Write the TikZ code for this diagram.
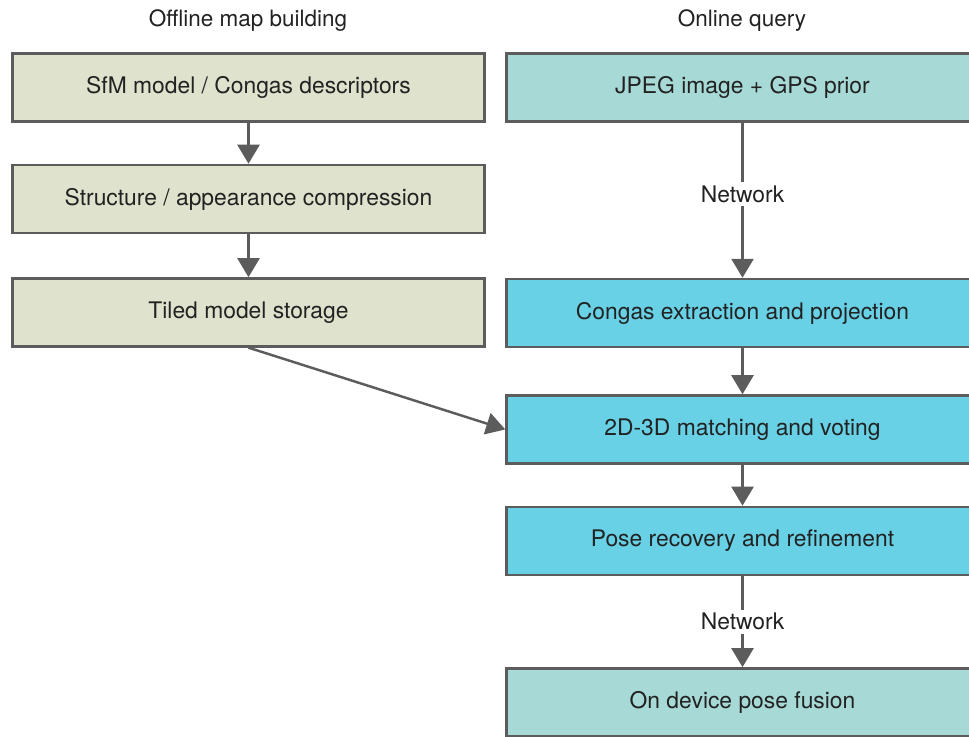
\documentclass[tikz,border=0pt]{standalone}
\usepackage{fontspec}
\setmainfont{TeX Gyre Heros}
\usetikzlibrary{positioning,arrows.meta}
\definecolor{offfill}{HTML}{DFE2CC}
\definecolor{netfill}{HTML}{A7DAD6}
\definecolor{devfill}{HTML}{68D1E6}
\definecolor{edge}{HTML}{5C5C5C}
\definecolor{ink}{HTML}{222222}
\tikzset{
	stage/.style={shape=rectangle,draw=edge,line width=1.4pt,minimum width=9.44cm,minimum height=1.36cm,text=ink,font=\fontsize{13}{15}\selectfont},
	offbox/.style={stage,fill=offfill},
	netbox/.style={stage,fill=netfill},
	devbox/.style={stage,fill=devfill},
	flow/.style={draw=edge,line width=1.4pt,-{Triangle[width=0.44cm,length=0.38cm]}},
	netlabel/.style={fill=white,text=ink,font=\fontsize{13}{15}\selectfont,inner sep=2pt}
}
\begin{document}
\begin{tikzpicture}
		\useasboundingbox (0,0) rectangle (19.38,-14.72);
		\clip (0,0) rectangle (19.38,-14.72);

		\node[text=ink,font=\fontsize{12.8}{15}\selectfont] (offtitle) at (4.96,-0.42) {Offline map building};
		\node[text=ink,font=\fontsize{12.8}{15}\selectfont] (ontitle) at (14.84,-0.42) {Online query};

		\node[offbox] (sfm) at (4.97,-1.75) {SfM model / Congas descriptors};
		\node[offbox] (compress) [below=0.82cm of sfm] {Structure / appearance compression};
		\node[offbox] (tiles) [below=0.86cm of compress] {Tiled model storage};

		\node[netbox] (jpeg) at (14.85,-1.75) {JPEG image + GPS prior};
		\node[devbox] (congas) at (14.85,-6.26) {Congas extraction and projection};
		\node[devbox] (match) [below=0.92cm of congas] {2D-3D matching and voting};
		\node[devbox] (pose) [below=0.82cm of match] {Pose recovery and refinement};
		\node[netbox] (fusion) [below=1.82cm of pose] {On device pose fusion};

		\draw[flow] (sfm) -- (compress);
		\draw[flow] (compress) -- (tiles);
		\draw[flow] (tiles.south) -- (match.west);
		\draw[flow] (jpeg) -- node[netlabel,pos=0.46] {Network} (congas);
		\draw[flow] (congas) -- (match);
		\draw[flow] (match) -- (pose);
		\draw[flow] (pose) -- node[netlabel] {Network} (fusion);
		\end{tikzpicture}
\end{document}
